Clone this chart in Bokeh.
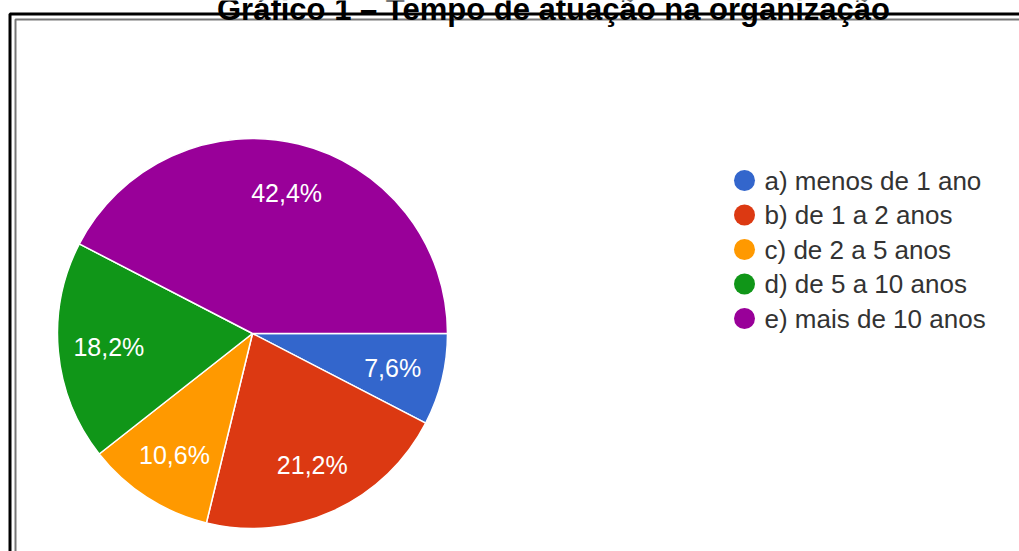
import math
from bokeh.plotting import figure
from bokeh.models import Range1d, ColumnDataSource
from bokeh.core.properties import value
from bokeh.embed import file_html
from bokeh.resources import INLINE

# ---- data ----
categories = ["a) menos de 1 ano", "b) de 1 a 2 anos", "c) de 2 a 5 anos",
              "d) de 5 a 10 anos", "e) mais de 10 anos"]
percentages = [7.6, 21.2, 10.6, 18.2, 42.4]
labels = ["7,6%", "21,2%", "10,6%", "18,2%", "42,4%"]
colors = ["#3366CC", "#DC3912", "#FF9900", "#109618", "#990099"]
title_text = "Gráfico 1 – Tempo de atuação na organização"

W, H = 1019, 551
def Y(ypix):
    return H - ypix

p = figure(width=W, height=H, x_range=Range1d(0, W), y_range=Range1d(0, H),
           x_axis_type=None, y_axis_type=None, toolbar_location=None,
           output_backend="svg", min_border=0, outline_line_color=None)
p.grid.visible = False
p.background_fill_color = "white"

# ---- pie ----
cx, cy, R = 252, Y(333), 195
total = sum(percentages)
starts, ends, mids = [], [], []
cum = 0.0
for v in percentages:
    a0 = -2 * math.pi * cum / total
    cum += v
    a1 = -2 * math.pi * cum / total
    starts.append(a1)
    ends.append(a0)
    mids.append((a0 + a1) / 2)

src = ColumnDataSource(dict(start=starts, end=ends, color=colors,
                            lab=labels,
                            lx=[cx + 0.74 * R * math.cos(m) for m in mids],
                            ly=[cy + 0.74 * R * math.sin(m) for m in mids]))
p.wedge(x=cx, y=cy, radius=R, start_angle="start", end_angle="end",
        fill_color="color", line_color="white", line_width=1.5, source=src)
p.text(x="lx", y="ly", text="lab", source=src, text_color="white",
       text_font=value("Liberation Sans"), text_font_size="25px",
       text_align="center", text_baseline="middle")

# ---- legend ----
leg_y = [Y(180 + 34.5 * i) for i in range(len(categories))]
lsrc = ColumnDataSource(dict(y=leg_y, color=colors, cat=categories))
p.scatter(x=744, y="y", size=21, fill_color="color", line_color=None, source=lsrc)
p.text(x=764, y="y", text="cat", source=lsrc, text_color="#333333",
       text_font=value("Liberation Sans"), text_font_size="26px",
       text_align="left", text_baseline="middle")

# ---- frame borders ----
p.line(x=[9.5, 9.5, W + 5], y=[-5, Y(13.5), Y(13.5)], line_color="black", line_width=3)
p.line(x=[15, 15, W + 5], y=[-5, Y(19), Y(19)], line_color="#777777", line_width=2)

# ---- title (partially cut at top, as in the reference) ----
p.text(x=[553], y=[Y(9)], text=[title_text], text_color="black",
       text_font=value("Liberation Sans"), text_font_style="bold",
       text_font_size="31px", text_align="center", text_baseline="alphabetic")

open("out.html", "w").write(file_html(p, INLINE))
